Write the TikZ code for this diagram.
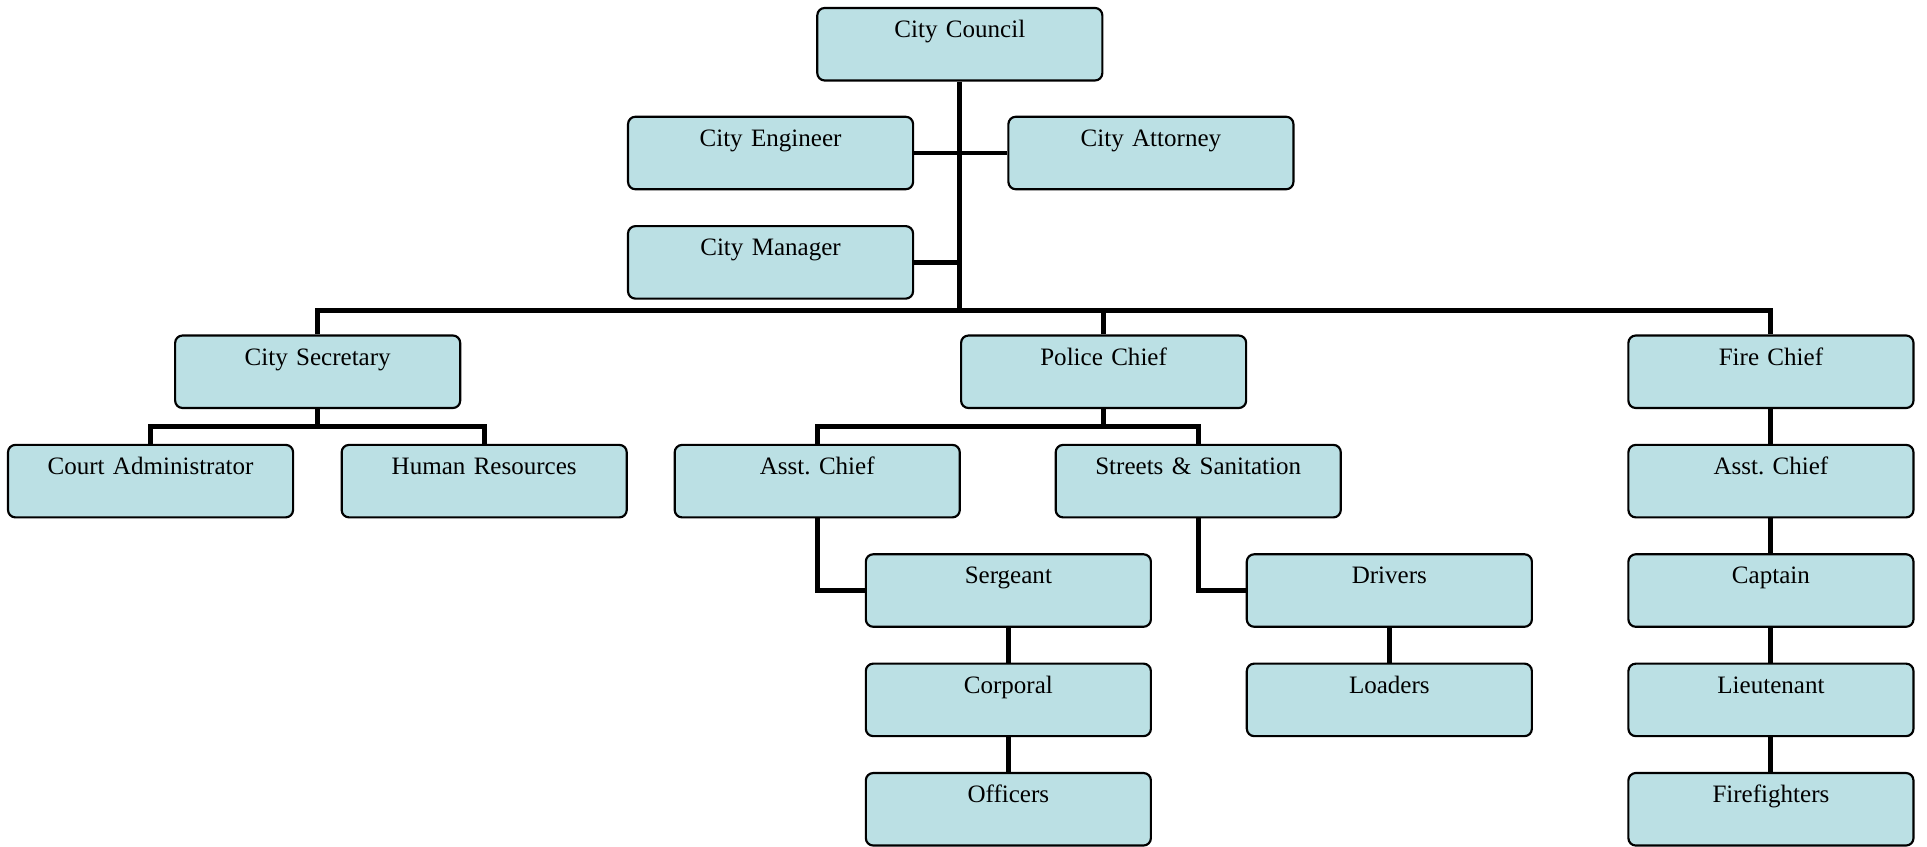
\documentclass[tikz,border=0pt]{standalone}
\usepackage{fontspec}
\setmainfont{Liberation Serif}
\frenchspacing
\definecolor{boxfill}{RGB}{187,224,228}

\begin{document}
\begin{tikzpicture}[x=0.02cm, y=-0.02cm,
		post/.style={draw=black, line width=1pt, fill=boxfill, rounded corners=0.12cm,
			rectangle, inner sep=0pt, text width=4.64cm, align=center,
			text height=0.48cm, text depth=0.70cm,
			font=\fontsize{11.6}{13}\selectfont},
		link/.style={line width=2.3pt, black}]
		\useasboundingbox (0,0) rectangle (1568,689);
		% top of the chart
		\node[post] (council) at (781,36) {City Council};
		\node[post] (engineer) at (627,124.5) {City Engineer};
		\node[post] (attorney) at (936.5,124.5) {City Attorney};
		\node[post] (manager) at (627,213.5) {City Manager};
		\coordinate (bus) at (781,253);
		% department heads
		\node[post] (citysec) at (258.5,302.5) {City Secretary};
		\node[post] (police) at (898,302.5) {Police Chief};
		\node[post] (fire) at (1441,302.5) {Fire Chief};
		% city secretary
		\node[post] (court) at (122.5,391.5) {Court Administrator};
		\node[post] (hr) at (394,391.5) {Human Resources};
		\coordinate (secbus) at (258.5,347);
		% police
		\node[post] (asstpol) at (665,391.5) {Asst. Chief};
		\node[post] (streets) at (975,391.5) {Streets \& Sanitation};
		\coordinate (polbus) at (898,347);
		\node[post] (sergeant) at (820.5,480.5) {Sergeant};
		\node[post] (corporal) at (820.5,569.5) {Corporal};
		\node[post] (officers) at (820.5,658.5) {Officers};
		\node[post] (drivers) at (1130.5,480.5) {Drivers};
		\node[post] (loaders) at (1130.5,569.5) {Loaders};
		% fire
		\node[post] (asstfire) at (1441,391.5) {Asst. Chief};
		\node[post] (captain) at (1441,480.5) {Captain};
		\node[post] (lieutenant) at (1441,569.5) {Lieutenant};
		\node[post] (firefighters) at (1441,658.5) {Firefighters};

		\draw[link] (council.south) -- (bus);
		\draw[link] (engineer.east) -- (engineer.east -| council) -- (attorney.west);
		\draw[link] (manager.east) -- (manager.east -| council);
		\draw[link] (citysec.north) -- (citysec.north |- bus) -- (fire.north |- bus) -- (fire.north);
		\draw[link] (police.north) -- (police.north |- bus);
		\draw[link] (citysec.south) -- (secbus);
		\draw[link] (court.north) |- (secbus) -| (hr.north);
		\draw[link] (police.south) -- (polbus);
		\draw[link] (asstpol.north) |- (polbus) -| (streets.north);
		\draw[link] (asstpol.south) |- (sergeant.west);
		\draw[link] (sergeant) -- (corporal) (corporal) -- (officers);
		\draw[link] (streets.south) |- (drivers.west);
		\draw[link] (drivers) -- (loaders);
		\draw[link] (fire) -- (asstfire) (asstfire) -- (captain)
			(captain) -- (lieutenant) (lieutenant) -- (firefighters);
\end{tikzpicture}
\end{document}
